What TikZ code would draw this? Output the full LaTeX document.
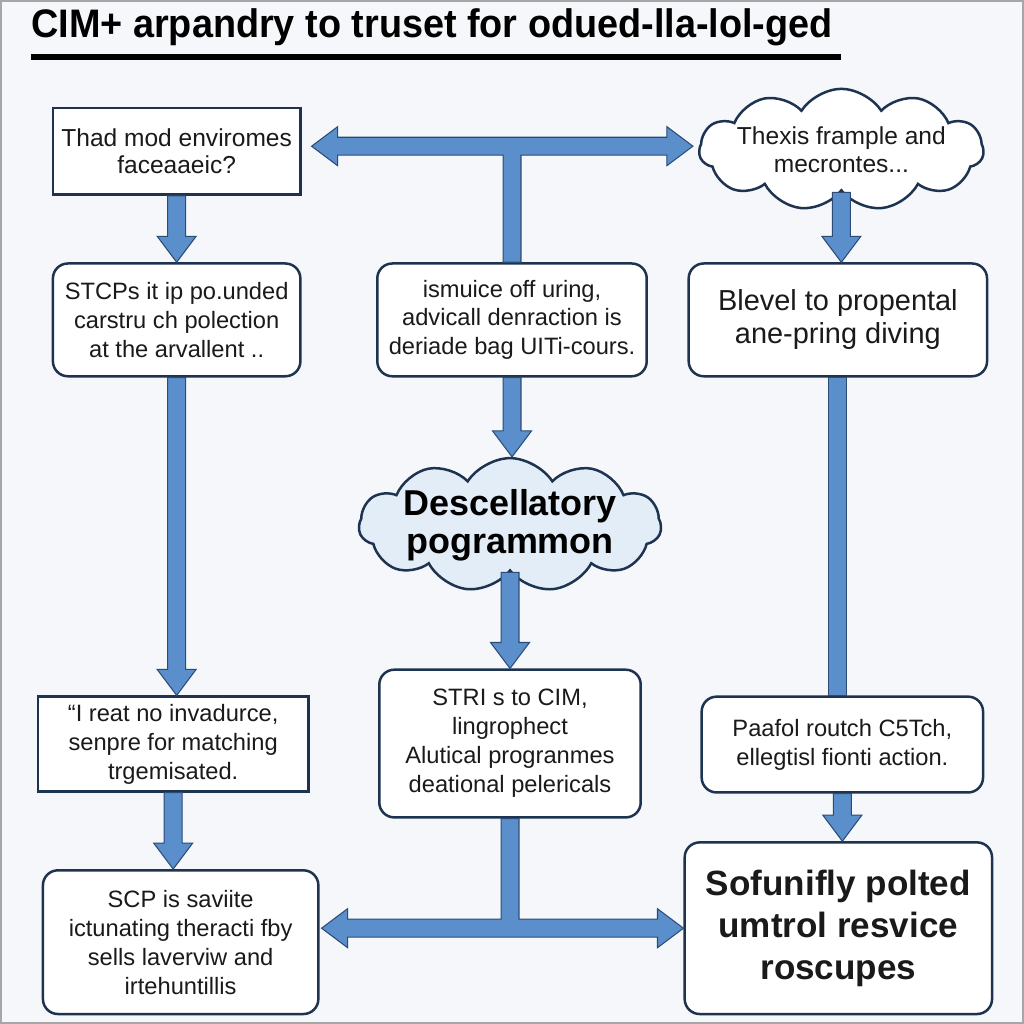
\documentclass[tikz,border=0pt]{standalone}
\usepackage{fontspec}
\setmainfont{Liberation Sans}
\newfontfamily\titlefont[FakeStretch=0.95]{Liberation Sans}
\usetikzlibrary{calc,shapes.symbols}
\definecolor{bg}{HTML}{F5F7FA}
\definecolor{boxline}{HTML}{1E3350}
\definecolor{arrowblue}{HTML}{5B8FCC}
\definecolor{arrowdark}{HTML}{2B4B75}
\definecolor{cloudblue}{HTML}{E3EDF8}
\definecolor{textdark}{HTML}{1A1A1A}
\def\shaftw{0.18cm}
\def\headw{0.39cm}
\def\headl{0.52cm}

\begin{document}
\begin{tikzpicture}[x=0.02cm,y=-0.02cm,
  sqbox/.style={draw=boxline,fill=white,line width=0.05cm,align=center,inner sep=0pt,text=textdark,font=\fontsize{13.5}{16.5}\selectfont},
  rbox/.style={sqbox,rounded corners=0.3cm},
  cloudbox/.style={cloud,cloud puffs=11,cloud puff arc=115,cloud ignores aspect,draw=boxline,line width=0.05cm,inner sep=0pt},
  fatarrow/.style={fill=arrowblue,draw=arrowdark,line width=0.6pt},
  fatdown/.style={fatarrow,to path={let \p1=(\tikztostart), \p2=(\tikztotarget) in
    (\x1-\shaftw,\y1) -- (\x1-\shaftw,\y2+\headl) -- (\x1-\headw,\y2+\headl) -- (\x1,\y2)
    -- (\x1+\headw,\y2+\headl) -- (\x1+\shaftw,\y2+\headl) -- (\x1+\shaftw,\y1) -- cycle}},
  fatstem/.style={fatarrow,to path={let \p1=(\tikztostart), \p2=(\tikztotarget) in
    (\x1-\shaftw,\y1) -- (\x1-\shaftw,\y2) -- (\x1+\shaftw,\y2) -- (\x1+\shaftw,\y1) -- cycle}}]
\fill[bg] (0,0) rectangle (1024,1024);
\draw[gray!70,line width=0.04cm] (0,0) rectangle (1024,1024);
\useasboundingbox (0,0) rectangle (1024,1024);

\node[anchor=base west,inner sep=0pt,text=black,font=\titlefont\bfseries\fontsize{22.7}{24}\selectfont] (title) at (30,37) {CIM+ arpandry to truset for odued-lla-lol-ged};
\fill[black] (30,53) rectangle (842,59);

\node[sqbox,minimum width=4.96cm,minimum height=1.74cm,font=\fontsize{14}{15.5}\selectfont] (q1) at (176,150.5) {Thad mod enviromes\\faceaaeic?};
\node[cloudbox,fill=white,minimum width=5.7cm,minimum height=2.44cm,
  label={[text=textdark,align=center,font=\fontsize{14}{16.4}\selectfont]center:{Thexis frample and\\mecrontes...}}] (c1) at (842,149) {};

\node[rbox,minimum width=4.96cm,minimum height=2.26cm] (b2l) at (176,319.5) {STCPs it ip po.unded\\carstru ch polection\\at the arvallent ..};
\node[rbox,minimum width=5.4cm,minimum height=2.26cm] (b2m) at (512,319.5) {ismuice off uring,\\advicall denraction is\\deriade bag UITi-cours.};
\node[rbox,minimum width=5.98cm,minimum height=2.26cm,font=\fontsize{16.5}{18.7}\selectfont] (b2r) at (838.5,319.5) {Blevel to propental\\ane-pring diving};

\node[cloudbox,fill=cloudblue,minimum width=6.06cm,minimum height=2.68cm,
  label={[text=black,align=center,font=\bfseries\fontsize{20.5}{21.5}\selectfont]center:{Descellatory\\pogrammon}}] (c2) at (510,525) {};

\node[sqbox,minimum width=5.42cm,minimum height=1.9cm] (b4l) at (172.5,744.5) {``I reat no invadurce,\\senpre for matching\\trgemisated.};
\node[rbox,minimum width=5.24cm,minimum height=2.96cm] (b4m) at (510,744) {STRI s to CIM,\\lingrophect\\Alutical progranmes\\deational pelericals};
\node[rbox,minimum width=5.64cm,minimum height=1.92cm] (b4r) at (843,745) {Paafol routch C5Tch,\\ellegtisl fionti action.};

\node[rbox,minimum width=5.52cm,minimum height=2.88cm] (b5l) at (180,943) {SCP is saviite\\ictunating theracti fby\\sells laverviw and\\irtehuntillis};
\node[rbox,minimum width=6.16cm,minimum height=3.44cm,font=\bfseries\fontsize{20}{24}\selectfont] (b5r) at (839,929) {Sofunifly polted\\umtrol resvice\\roscupes};

\path[fatdown] (q1.south) to (b2l.north);
\path[fatdown] (b2l.south) to (b4l.north);
\path[fatdown] (b4l.south) to (b5l.north);
\path[fatdown] (b2m.south) to (c2.north);
\path[fatdown] (c2.south) to (b4m.north);
\path[fatdown] (c1.south) to (b2r.north);
\path[fatstem] (b2r.south) to (b4r.north);
\path[fatdown] (b4r.south) to (b5r.north);

\coordinate (tl) at ($(q1.east)+(10,-5)$);
\coordinate (tr) at ($(c1.west)+(-5,-4)$);
\path[fatarrow] let \p1=(tl), \p2=(tr), \p3=(b2m.north) in
  (\x1,\y1) -- (\x1+\headl,\y1+\headw) -- (\x1+\headl,\y1+\shaftw) -- (\x2-\headl,\y1+\shaftw)
  -- (\x2-\headl,\y1+\headw) -- (\x2,\y1) -- (\x2-\headl,\y1-\headw) -- (\x2-\headl,\y1-\shaftw)
  -- (\x3+\shaftw,\y1-\shaftw) -- (\x3+\shaftw,\y3) -- (\x3-\shaftw,\y3) -- (\x3-\shaftw,\y1-\shaftw)
  -- (\x1+\headl,\y1-\shaftw) -- (\x1+\headl,\y1-\headw) -- cycle;

\coordinate (bl) at ($(b5l.east |- b5r.west)+(2,0)$);
\path[fatarrow] let \p1=(bl), \p2=(b5r.west), \p3=(b4m.south) in
  (\x1,\y1) -- (\x1+\headl,\y1+\headw) -- (\x1+\headl,\y1+\shaftw) -- (\x3-\shaftw,\y1+\shaftw)
  -- (\x3-\shaftw,\y3) -- (\x3+\shaftw,\y3) -- (\x3+\shaftw,\y1+\shaftw) -- (\x2-\headl,\y1+\shaftw)
  -- (\x2-\headl,\y1+\headw) -- (\x2,\y1) -- (\x2-\headl,\y1-\headw) -- (\x2-\headl,\y1-\shaftw)
  -- (\x1+\headl,\y1-\shaftw) -- (\x1+\headl,\y1-\headw) -- cycle;
\end{tikzpicture}
\end{document}
